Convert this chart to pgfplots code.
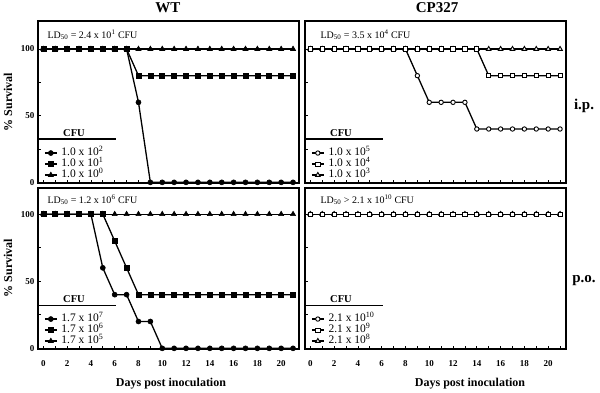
\documentclass[border=0pt]{standalone}
\usepackage{pgfplots}
\usepackage{pgfplotstable}
\pgfplotsset{compat=1.18}
\usepackage{fontspec}
\setmainfont{Liberation Serif}

\pgfplotstableread{
day a b c
0 100 100 100
1 100 100 100
2 100 100 100
3 100 100 100
4 100 100 100
5 100 100 100
6 100 100 100
7 100 100 100
8 60 80 100
9 0 80 100
10 0 80 100
11 0 80 100
12 0 80 100
13 0 80 100
14 0 80 100
15 0 80 100
16 0 80 100
17 0 80 100
18 0 80 100
19 0 80 100
20 0 80 100
21 0 80 100
}\wtip

\pgfplotstableread{
day a b c
0 100 100 100
1 100 100 100
2 100 100 100
3 100 100 100
4 100 100 100
5 100 100 100
6 100 100 100
7 100 100 100
8 100 100 100
9 80 100 100
10 60 100 100
11 60 100 100
12 60 100 100
13 60 100 100
14 40 100 100
15 40 80 100
16 40 80 100
17 40 80 100
18 40 80 100
19 40 80 100
20 40 80 100
21 40 80 100
}\cpip

\pgfplotstableread{
day a b c
0 100 100 100
1 100 100 100
2 100 100 100
3 100 100 100
4 100 100 100
5 60 100 100
6 40 80 100
7 40 60 100
8 20 40 100
9 20 40 100
10 0 40 100
11 0 40 100
12 0 40 100
13 0 40 100
14 0 40 100
15 0 40 100
16 0 40 100
17 0 40 100
18 0 40 100
19 0 40 100
20 0 40 100
21 0 40 100
}\wtpo

\pgfplotstableread{
day a b c
0 100 100 100
1 100 100 100
2 100 100 100
3 100 100 100
4 100 100 100
5 100 100 100
6 100 100 100
7 100 100 100
8 100 100 100
9 100 100 100
10 100 100 100
11 100 100 100
12 100 100 100
13 100 100 100
14 100 100 100
15 100 100 100
16 100 100 100
17 100 100 100
18 100 100 100
19 100 100 100
20 100 100 100
21 100 100 100
}\cppo

\pgfplotsset{
 panel/.style={
  scale only axis, width=261pt,
  xmin=-0.45, xmax=21.5, ymin=-0.5,
  clip=false,
  axis line style={line width=1.6pt},
  tick align=inside,
  xtick={0,2,...,20}, minor xtick={1,3,...,21},
  ytick={0,50,100}, minor ytick={25,75},
  xtick pos=bottom, ytick pos=left,
  major tick length=3pt, minor tick length=3pt,
  every tick/.style={black, line width=0.8pt},
  /pgf/number format/assume math mode=true,
  yticklabel style={font=\fontsize{9}{10}\selectfont\bfseries},
  xticklabel style={font=\fontsize{9}{10}\selectfont\bfseries, yshift=-8pt},
  legend style={at={(rel axis cs:0,0)}, anchor=south west, xshift=6pt, yshift=3pt,
    draw=none, fill=none, font=\fontsize{11.5}{11.5}\selectfont,
    row sep=1.5pt, inner sep=0pt, column sep=0pt,
    nodes={inner sep=0pt, text height=7.5pt, text depth=2pt}},
  legend cell align=left,
  legend image code/.code={\draw[mark repeat=2,mark phase=2,##1] plot coordinates {(0pt,0pt) (6pt,0pt) (12pt,0pt)}; \path (16pt,0pt);},
 },
 ser/.style={black, line width=1.3pt},
 fc/.style={ser, mark=*, mark size=2.5pt, mark options={solid, line width=0.6pt}},
 fs/.style={ser, mark=square*, mark size=2.5pt, mark options={solid, line width=0.6pt}},
 ft/.style={ser, mark=triangle*, mark size=2.9pt, mark options={solid, line width=0.6pt}},
 oc/.style={ser, mark=*, mark size=2.2pt, mark options={solid, fill=white, line width=0.9pt}},
 os/.style={ser, mark=square*, mark size=2.1pt, mark options={solid, fill=white, line width=0.9pt}},
 ot/.style={ser, mark=triangle*, mark size=2.6pt, mark options={solid, fill=white, line width=0.9pt}},
}

\newcommand{\cfuhead}{%
  \node[font=\fontsize{10.5}{11}\selectfont\bfseries] at (rel axis cs:0.138,0.31) {CFU};
  \draw[line width=1.3pt] (rel axis cs:0,0.272) -- (rel axis cs:0.30,0.272);
}

\begin{document}
\begin{tikzpicture}
\useasboundingbox (0pt,0pt) rectangle (600pt,392pt);

% top-left: WT i.p.
\begin{axis}[panel, at={(38pt,209pt)}, anchor=south west, height=162pt, ymax=121, xticklabels={}]
\addplot[fc] table[x=day,y=a] {\wtip};
\addlegendentry{1.0 x 10\textsuperscript{2}}
\addlegendimage{fs}
\addlegendentry{1.0 x 10\textsuperscript{1}}
\addlegendimage{ft}
\addlegendentry{1.0 x 10\textsuperscript{0}}
\addplot[ft, forget plot] table[x=day,y=c] {\wtip};
\addplot[fs, forget plot] table[x=day,y=b] {\wtip};
\cfuhead
\node[anchor=west, font=\fontsize{10}{10}\selectfont] at (rel axis cs:0,1) [xshift=6pt, yshift=-14pt] {LD\textsubscript{50} = 2.4 x 10\textsuperscript{1} CFU};
\end{axis}

% top-right: CP327 i.p.
\begin{axis}[panel, at={(305pt,209pt)}, anchor=south west, height=162pt, ymax=121, xticklabels={}, yticklabels={}]
\addplot[oc] table[x=day,y=a] {\cpip};
\addlegendentry{1.0 x 10\textsuperscript{5}}
\addlegendimage{os}
\addlegendentry{1.0 x 10\textsuperscript{4}}
\addlegendimage{ot}
\addlegendentry{1.0 x 10\textsuperscript{3}}
\addplot[ot, forget plot] table[x=day,y=c] {\cpip};
\addplot[os, forget plot] table[x=day,y=b] {\cpip};
\cfuhead
\node[anchor=west, font=\fontsize{10}{10}\selectfont] at (rel axis cs:0,1) [xshift=12pt, yshift=-14pt] {LD\textsubscript{50} = 3.5 x 10\textsuperscript{4} CFU};
\end{axis}

% bottom-left: WT p.o.
\begin{axis}[panel, at={(38pt,43pt)}, anchor=south west, height=161pt, ymax=119.5]
\addplot[fc] table[x=day,y=a] {\wtpo};
\addlegendentry{1.7 x 10\textsuperscript{7}}
\addlegendimage{fs}
\addlegendentry{1.7 x 10\textsuperscript{6}}
\addlegendimage{ft}
\addlegendentry{1.7 x 10\textsuperscript{5}}
\addplot[ft, forget plot] table[x=day,y=c] {\wtpo};
\addplot[fs, forget plot] table[x=day,y=b] {\wtpo};
\cfuhead
\node[anchor=west, font=\fontsize{10}{10}\selectfont] at (rel axis cs:0,1) [xshift=6pt, yshift=-12pt] {LD\textsubscript{50} = 1.2 x 10\textsuperscript{6} CFU};
\end{axis}

% bottom-right: CP327 p.o.
\begin{axis}[panel, at={(305pt,43pt)}, anchor=south west, height=161pt, ymax=119.5, yticklabels={}]
\addplot[oc] table[x=day,y=a] {\cppo};
\addlegendentry{2.1 x 10\textsuperscript{10}}
\addlegendimage{os}
\addlegendentry{2.1 x 10\textsuperscript{9}}
\addlegendimage{ot}
\addlegendentry{2.1 x 10\textsuperscript{8}}
\addplot[ot, forget plot] table[x=day,y=c] {\cppo};
\addplot[os, forget plot] table[x=day,y=b] {\cppo};
\cfuhead
\node[anchor=west, font=\fontsize{10}{10}\selectfont] at (rel axis cs:0,1) [xshift=12pt, yshift=-12pt] {LD\textsubscript{50} > 2.1 x 10\textsuperscript{10} CFU};
\end{axis}

% titles and labels
\node[font=\fontsize{15}{15}\selectfont\bfseries] at (168pt,384pt) {WT};
\node[font=\fontsize{15}{15}\selectfont\bfseries] at (437pt,384pt) {CP327};
\node[font=\fontsize{15}{15}\selectfont\bfseries] at (584pt,286pt) {i.p.};
\node[font=\fontsize{15}{15}\selectfont\bfseries] at (584pt,111pt) {p.o.};
\node[rotate=90, font=\fontsize{12}{12}\selectfont\bfseries] at (8pt,290pt) {\% Survival};
\node[rotate=90, font=\fontsize{12}{12}\selectfont\bfseries] at (8pt,124pt) {\% Survival};
\node[font=\fontsize{12}{12}\selectfont\bfseries] at (171pt,8pt) {Days post inoculation};
\node[font=\fontsize{12}{12}\selectfont\bfseries] at (470pt,8pt) {Days post inoculation};
\end{tikzpicture}
\end{document}
